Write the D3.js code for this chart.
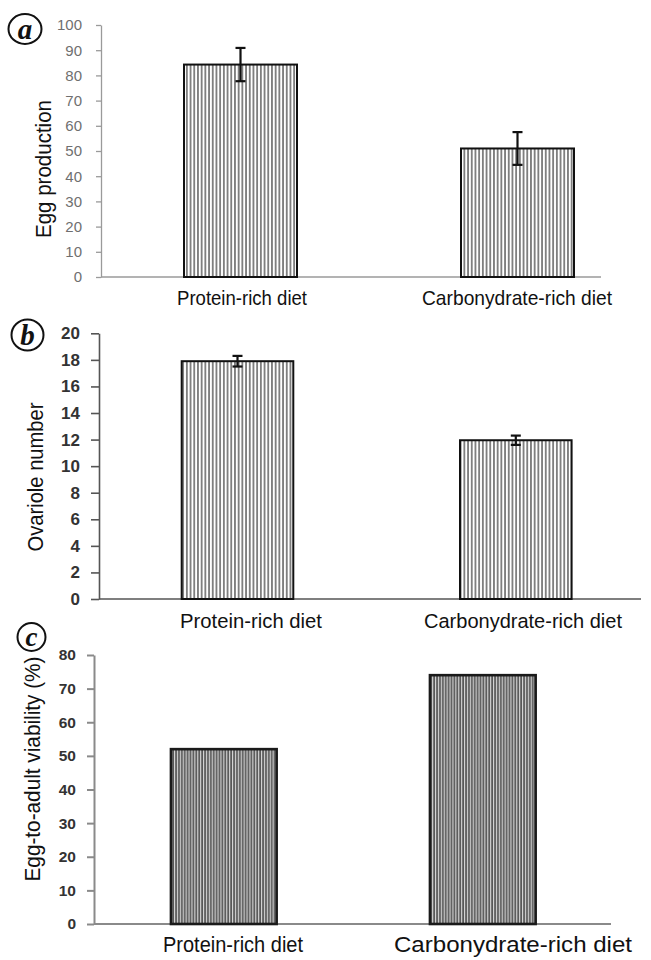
<!DOCTYPE html>
<html><head><meta charset="utf-8">
<script src="https://cdn.jsdelivr.net/npm/d3@7"></script>
<style>body{margin:0;background:#fff}svg{display:block}</style>
</head><body>
<svg id="c" width="651" height="960"></svg>
<script>
// ---- data ----
const categories = ["Protein-rich diet", "Carbonydrate-rich diet"];
const eggProduction = [84.3, 51];
const eggProductionErr = [6.6, 6.5];
const ovarioleNumber = [17.9, 11.95];
const ovarioleErr = [0.4, 0.35];
const viability = [52, 74];
const ticksA = [0,10,20,30,40,50,60,70,80,90,100];
const ticksB = [0,2,4,6,8,10,12,14,16,18,20];
const ticksC = [0,10,20,30,40,50,60,70,80];
const panelLetters = ["a","b","c"];
const yTitles = ["Egg production","Ovariole number","Egg-to-adult viability (%)"];

const svg = d3.select("#c");
const defs = svg.append("defs");
// stripe patterns
const pA = defs.append("pattern").attr("id","stripeLight").attr("patternUnits","userSpaceOnUse")
  .attr("width",3.7).attr("height",10);
pA.append("rect").attr("width",3.7).attr("height",10).attr("fill","#fff");
pA.append("rect").attr("x",1.2).attr("width",1.3).attr("height",10).attr("fill","#4a4a4a");
const pC = defs.append("pattern").attr("id","stripeDark").attr("patternUnits","userSpaceOnUse")
  .attr("width",2.9).attr("height",10);
pC.append("rect").attr("width",2.9).attr("height",10).attr("fill","#808080");
pC.append("rect").attr("x",0).attr("width",0.9).attr("height",10).attr("fill","#dcdcdc");
pC.append("rect").attr("x",1.7).attr("width",0.8).attr("height",10).attr("fill","#3c3c3c");

const panels = [
  {vals:eggProduction, err:eggProductionErr, ticks:ticksA, max:100,
   axisX:101, axisRight:601, y0:277, yTop:25, c1:240.5, c2:517.5, bw:113,
   axisColor:"#9a9a9a", axisW:1.3, tickLen:5, tickPad:14, tickFont:"normal", tickSize:15, tickColor:"#6f6f6f", tickLenTxt:null,
   fill:"url(#stripeLight)", barStroke:"#111", barW:2,
   labels:[{cx:242,w:130},{cx:517,w:190}], labY:305, labSize:21,
   title:{x:43,y:169,len:138,size:22},
   letter:{cx:25,cy:29,rx:16.5,ry:15,size:29}},
  {vals:ovarioleNumber, err:ovarioleErr, ticks:ticksB, max:20,
   axisX:99, axisRight:641, y0:599, yTop:333.3, c1:237.5, c2:515.8, bw:111.6,
   axisColor:"#555", axisW:1.6, tickLen:8, tickPad:11, tickFont:"bold", tickSize:17, tickColor:"#333",
   fill:"url(#stripeLight)", barStroke:"#111", barW:2,
   labels:[{cx:251,w:142},{cx:523,w:198}], labY:628, labSize:20.5,
   title:{x:35,y:477,len:149,size:22},
   letter:{cx:27.5,cy:335,rx:16,ry:15.5,size:29}},
  {vals:viability, err:null, ticks:ticksC, max:80,
   axisX:94, axisRight:611, y0:924, yTop:655, c1:223.8, c2:482.8, bw:105.7,
   axisColor:"#8a8a8a", axisW:2, tickLen:7, tickPad:11, tickFont:"bold", tickSize:15.5, tickColor:"#333",
   fill:"url(#stripeDark)", barStroke:"#1a1a1a", barW:2.6,
   labels:[{cx:233,w:140},{cx:513,w:238}], labY:952, labSize:22,
   title:{x:32,y:769,len:225,size:22},
   letter:{cx:31.5,cy:637,rx:14,ry:14,size:27}}
];

panels.forEach((p,pi)=>{
  const g = svg.append("g");
  const step = p.c2 - p.c1;
  const pad = 1 - p.bw/step;
  const x = d3.scaleBand().domain(categories)
    .range([p.c1 - step/2, p.c2 + step/2]).paddingInner(pad).paddingOuter(pad/2);
  const y = d3.scaleLinear().domain([0,p.max]).range([p.y0,p.yTop]);

  // y axis
  const ax = g.append("g").attr("transform",`translate(${p.axisX},0)`)
    .call(d3.axisLeft(y).tickValues(p.ticks).tickSize(p.tickLen).tickPadding(p.tickPad).tickSizeOuter(0));
  ax.select(".domain").attr("stroke",p.axisColor).attr("stroke-width",p.axisW);
  ax.selectAll(".tick line").attr("stroke",p.axisColor).attr("stroke-width",p.axisW);
  ax.selectAll(".tick text").attr("fill",p.tickColor)
    .attr("font-family","Liberation Sans, Arial, sans-serif")
    .attr("font-weight",p.tickFont).attr("font-size",p.tickSize);

  // x axis line
  g.append("line").attr("x1",p.axisX).attr("x2",p.axisRight)
    .attr("y1",y(0)).attr("y2",y(0))
    .attr("stroke",p.axisColor).attr("stroke-width",p.axisW);

  // bars
  g.selectAll("rect.bar").data(p.vals).join("rect").attr("class","bar")
    .attr("x",(d,i)=>x(categories[i]))
    .attr("width",x.bandwidth())
    .attr("y",d=>y(d))
    .attr("height",d=>y(0)-y(d))
    .attr("fill",p.fill)
    .attr("stroke",p.barStroke).attr("stroke-width",p.barW);

  // error bars
  if(p.err){
    const eg = g.append("g").attr("stroke","#111").attr("stroke-width",2.2);
    p.vals.forEach((v,i)=>{
      const cx = x(categories[i]) + x.bandwidth()/2;
      const e = p.err[i];
      eg.append("line").attr("x1",cx).attr("x2",cx).attr("y1",y(v+e)).attr("y2",y(v-e));
      eg.append("line").attr("x1",cx-5).attr("x2",cx+5).attr("y1",y(v+e)).attr("y2",y(v+e));
      eg.append("line").attr("x1",cx-5).attr("x2",cx+5).attr("y1",y(v-e)).attr("y2",y(v-e));
    });
  }

  // category labels
  categories.forEach((c,i)=>{
    const L = p.labels[i];
    const dx = L.cx - (x(c)+x.bandwidth()/2);
    g.append("text").attr("x",x(c)+x.bandwidth()/2+dx).attr("y",p.labY)
      .attr("text-anchor","middle")
      .attr("font-family","Liberation Sans, Arial, sans-serif")
      .attr("font-size",p.labSize).attr("fill","#111")
      .attr("textLength",L.w).attr("lengthAdjust","spacingAndGlyphs")
      .text(c);
  });

  // y title
  g.append("text").attr("transform",`translate(${p.title.x},${p.title.y}) rotate(-90)`)
    .attr("text-anchor","middle").attr("dominant-baseline","central")
    .attr("font-family","Liberation Sans, Arial, sans-serif")
    .attr("font-size",p.title.size).attr("fill","#111")
    .attr("textLength",p.title.len).attr("lengthAdjust","spacingAndGlyphs")
    .text(yTitles[pi]);

  // panel letter
  g.append("ellipse").attr("cx",p.letter.cx).attr("cy",p.letter.cy)
    .attr("rx",p.letter.rx).attr("ry",p.letter.ry)
    .attr("fill","none").attr("stroke","#111").attr("stroke-width",2);
  g.append("text").attr("x",p.letter.cx).attr("y",p.letter.cy)
    .attr("text-anchor","middle").attr("dominant-baseline","central")
    .attr("font-family","Liberation Serif, Times New Roman, serif")
    .attr("font-style","italic").attr("font-weight","bold")
    .attr("font-size",p.letter.size).attr("fill","#111")
    .text(panelLetters[pi]);
});
</script>
</body></html>
